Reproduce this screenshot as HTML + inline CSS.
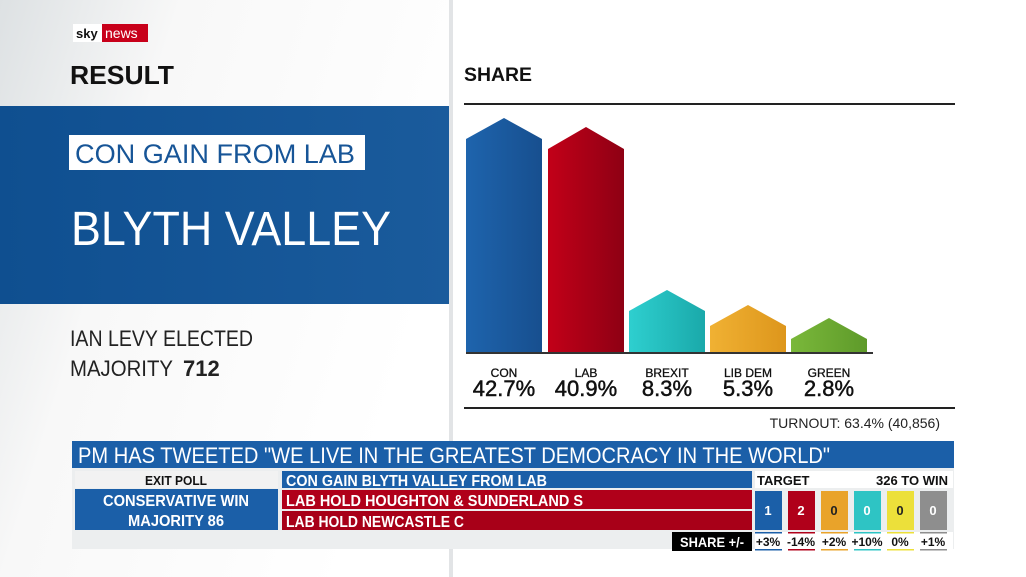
<!DOCTYPE html>
<html><head><meta charset="utf-8"><style>
html,body{margin:0;padding:0;background:#fff;}
svg{display:block;font-family:"Liberation Sans",sans-serif;}
</style></head><body>
<svg width="1026" height="577" viewBox="0 0 1026 577" xmlns="http://www.w3.org/2000/svg">
<defs>
<linearGradient id="bg" x1="0" y1="0" x2="1" y2="0.4"><stop offset="0" stop-color="#dde1e3"/><stop offset="0.35" stop-color="#f8f8f8"/><stop offset="1" stop-color="#ffffff"/></linearGradient>
<linearGradient id="blue" x1="0" y1="0" x2="1" y2="0"><stop offset="0" stop-color="#0f4f90"/><stop offset="1" stop-color="#1a5b9c"/></linearGradient>
<linearGradient id="gcon" x1="0" x2="1"><stop offset="0" stop-color="#1e64ad"/><stop offset="1" stop-color="#174f8f"/></linearGradient>
<linearGradient id="glab" x1="0" x2="1"><stop offset="0" stop-color="#c20018"/><stop offset="1" stop-color="#8e0014"/></linearGradient>
<linearGradient id="gbx" x1="0" x2="1"><stop offset="0" stop-color="#2ecfcf"/><stop offset="1" stop-color="#1aa9aa"/></linearGradient>
<linearGradient id="gld" x1="0" x2="1"><stop offset="0" stop-color="#f0b133"/><stop offset="1" stop-color="#dd961c"/></linearGradient>
<linearGradient id="ggr" x1="0" x2="1"><stop offset="0" stop-color="#7ab83a"/><stop offset="1" stop-color="#5e9a2a"/></linearGradient>
</defs>
<rect width="1026" height="577" fill="#fff"/>
<rect width="449" height="577" fill="url(#bg)"/>
<rect x="449" y="0" width="4" height="577" fill="#e2e4e6"/>
<rect x="73" y="24" width="75" height="18" fill="#fff"/>
<text x="76" y="38" font-size="13" font-weight="bold" fill="#111">sky</text>
<rect x="102" y="24" width="46" height="18" fill="#c8001a"/>
<text x="105" y="38" font-size="14" fill="#fff">news</text>
<text x="70" y="84" font-size="26" font-weight="bold" fill="#111" textLength="104" lengthAdjust="spacingAndGlyphs">RESULT</text>
<text x="464" y="81" font-size="19" font-weight="bold" fill="#111" textLength="68" lengthAdjust="spacingAndGlyphs">SHARE</text>
<rect x="464" y="103" width="491" height="2" fill="#222"/>
<rect x="0" y="106" width="449" height="198" fill="url(#blue)"/>
<rect x="69" y="135" width="296" height="35" fill="#fff"/>
<text x="75" y="163" font-size="27" fill="#175597" textLength="280" lengthAdjust="spacingAndGlyphs">CON GAIN FROM LAB</text>
<text x="71" y="245" font-size="48" fill="#fff" textLength="320" lengthAdjust="spacingAndGlyphs">BLYTH VALLEY</text>
<text x="70" y="346" font-size="22" fill="#222" textLength="183" lengthAdjust="spacingAndGlyphs">IAN LEVY ELECTED</text>
<text x="70" y="376" font-size="22" fill="#222" textLength="103" lengthAdjust="spacingAndGlyphs">MAJORITY</text>
<text x="183" y="376" font-size="22" font-weight="bold" fill="#222">712</text>
<polygon points="466,353 466,139 504,118 542,139 542,353" fill="url(#gcon)"/>
<polygon points="548,353 548,149 586,127 624,149 624,353" fill="url(#glab)"/>
<polygon points="629,353 629,311 667,290 705,311 705,353" fill="url(#gbx)"/>
<polygon points="710,353 710,326 748,305 786,326 786,353" fill="url(#gld)"/>
<polygon points="791,353 791,339 829,318 867,339 867,353" fill="url(#ggr)"/>
<rect x="466" y="352" width="407" height="2" fill="#333"/>
<g font-size="12" fill="#111" text-anchor="middle" stroke="#111" stroke-width="0.3">
<text x="504" y="377">CON</text><text x="586" y="377">LAB</text><text x="667" y="377">BREXIT</text><text x="748" y="377">LIB DEM</text><text x="829" y="377">GREEN</text>
</g>
<g font-size="22" fill="#111" text-anchor="middle" stroke="#111" stroke-width="0.5">
<text x="504" y="396">42.7%</text><text x="586" y="396">40.9%</text><text x="667" y="396">8.3%</text><text x="748" y="396">5.3%</text><text x="829" y="396">2.8%</text>
</g>
<rect x="464" y="407" width="491" height="2" fill="#222"/>
<text x="940" y="428" font-size="14" fill="#222" text-anchor="end">TURNOUT: 63.4% (40,856)</text>
<rect x="72" y="441" width="882" height="27" fill="#1b5fa8"/>
<text x="78" y="463" font-size="22" fill="#fff" textLength="752" lengthAdjust="spacingAndGlyphs">PM HAS TWEETED "WE LIVE IN THE GREATEST DEMOCRACY IN THE WORLD"</text>
<rect x="72" y="468" width="882" height="81" fill="#eceeef"/>
<rect x="75" y="471" width="203" height="17" fill="#f2f2f2"/>
<text x="176" y="485" font-size="13" fill="#111" text-anchor="middle" font-weight="bold" textLength="62" lengthAdjust="spacingAndGlyphs">EXIT POLL</text>
<rect x="75" y="489" width="203" height="41" fill="#1b5fa8"/>
<text x="176" y="506" font-size="16" fill="#fff" text-anchor="middle" font-weight="bold" textLength="146" lengthAdjust="spacingAndGlyphs">CONSERVATIVE WIN</text>
<text x="176" y="526" font-size="16" fill="#fff" text-anchor="middle" font-weight="bold" textLength="96" lengthAdjust="spacingAndGlyphs">MAJORITY 86</text>
<rect x="282" y="471" width="470" height="17" fill="#1b5fa8"/>
<text x="286" y="486" font-size="16" fill="#fff" font-weight="bold" textLength="261" lengthAdjust="spacingAndGlyphs">CON GAIN BLYTH VALLEY FROM LAB</text>
<rect x="282" y="490" width="470" height="19" fill="#b0001a"/>
<text x="286" y="506" font-size="16" fill="#fff" font-weight="bold" textLength="297" lengthAdjust="spacingAndGlyphs">LAB HOLD HOUGHTON &amp; SUNDERLAND S</text>
<rect x="282" y="511" width="470" height="19" fill="#a80018"/>
<text x="286" y="527" font-size="16" fill="#fff" font-weight="bold" textLength="178" lengthAdjust="spacingAndGlyphs">LAB HOLD NEWCASTLE C</text>
<rect x="755" y="471" width="198" height="17" fill="#fff"/>
<text x="757" y="485" font-size="13" fill="#111" font-weight="bold">TARGET</text>
<text x="948" y="485" font-size="13" fill="#111" text-anchor="end" font-weight="bold">326 TO WIN</text>
<g font-size="13" text-anchor="middle" font-weight="bold">
<rect x="755" y="491" width="27" height="39" fill="#1b5fa8"/><text x="768" y="515" fill="#fff">1</text>
<rect x="788" y="491" width="27" height="39" fill="#b0001a"/><text x="801" y="515" fill="#fff">2</text>
<rect x="821" y="491" width="27" height="39" fill="#e9a32a"/><text x="834" y="515" fill="#222">0</text>
<rect x="854" y="491" width="27" height="39" fill="#2ec4c4"/><text x="867" y="515" fill="#fff">0</text>
<rect x="887" y="491" width="27" height="39" fill="#ece03a"/><text x="900" y="515" fill="#222">0</text>
<rect x="920" y="491" width="27" height="39" fill="#8e8e8e"/><text x="933" y="515" fill="#fff">0</text>
</g>
<rect x="672" y="532" width="80" height="19" fill="#000"/>
<text x="712" y="547" font-size="14" fill="#fff" text-anchor="middle" font-weight="bold" textLength="64" lengthAdjust="spacingAndGlyphs">SHARE +/-</text>
<rect x="755" y="532" width="198" height="19" fill="#fff"/>
<g font-size="12" fill="#111" text-anchor="middle" font-weight="bold">
<text x="768" y="546">+3%</text><text x="801" y="546">-14%</text><text x="834" y="546">+2%</text><text x="867" y="546">+10%</text><text x="900" y="546">0%</text><text x="933" y="546">+1%</text>
</g>
<g>
<rect x="755" y="532" width="27" height="1.5" fill="#1b5fa8"/><rect x="755" y="549" width="27" height="1.5" fill="#1b5fa8"/>
<rect x="788" y="532" width="27" height="1.5" fill="#b0001a"/><rect x="788" y="549" width="27" height="1.5" fill="#b0001a"/>
<rect x="821" y="532" width="27" height="1.5" fill="#e9a32a"/><rect x="821" y="549" width="27" height="1.5" fill="#e9a32a"/>
<rect x="854" y="532" width="27" height="1.5" fill="#2ec4c4"/><rect x="854" y="549" width="27" height="1.5" fill="#2ec4c4"/>
<rect x="887" y="532" width="27" height="1.5" fill="#ece03a"/><rect x="887" y="549" width="27" height="1.5" fill="#ece03a"/>
<rect x="920" y="532" width="27" height="1.5" fill="#8e8e8e"/><rect x="920" y="549" width="27" height="1.5" fill="#8e8e8e"/>
</g>
</svg>
</body></html>
